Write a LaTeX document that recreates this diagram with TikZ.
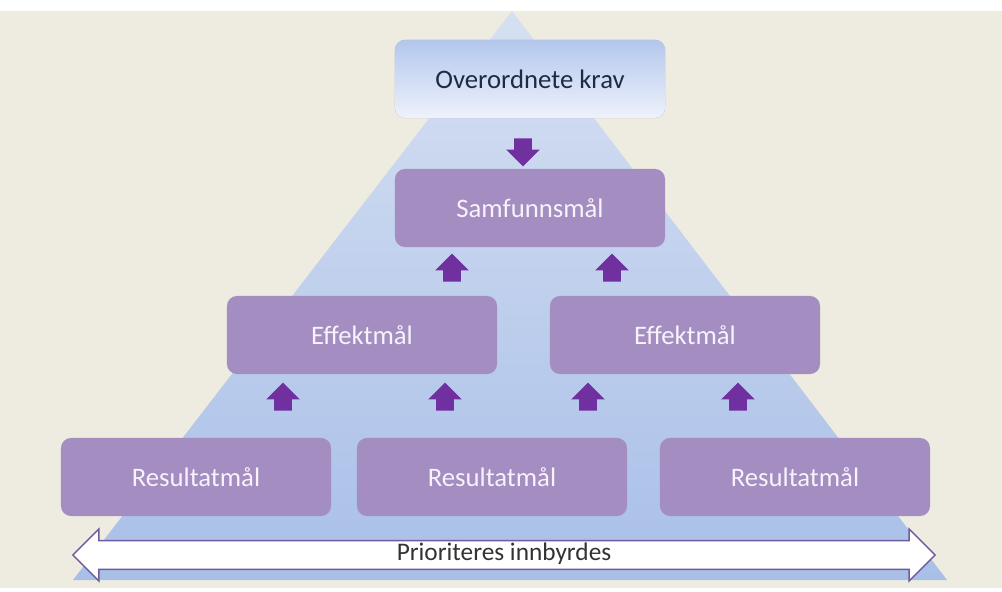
\documentclass[tikz,border=0pt]{standalone}
\usepackage{fontspec}
\setmainfont{Carlito}
\usetikzlibrary{shapes.arrows}
\definecolor{cream}{HTML}{EEEBE1}
\definecolor{pyrtop}{HTML}{D6E0F2}
\definecolor{pyrbottom}{HTML}{A8BFE8}
\definecolor{boxpurple}{HTML}{A48DC0}
\definecolor{boxtext}{HTML}{F7F2FB}
\definecolor{arrowpurple}{HTML}{7030A0}
\definecolor{kravtop}{HTML}{B3C7EC}
\definecolor{kravbottom}{HTML}{EEF2FB}
\definecolor{kravtext}{HTML}{1E2B45}
\definecolor{borderpurple}{HTML}{6E5C9E}
\definecolor{darktext}{HTML}{333333}
\begin{document}
\begin{tikzpicture}[x=0.025cm, y=-0.025cm,
  goal/.style={rectangle, rounded corners=0.25cm, fill=boxpurple, text=boxtext,
    minimum width=6.75cm, minimum height=1.95cm, font=\fontsize{19}{22}\selectfont},
  blockarrow/.style={single arrow, fill=arrowpurple, inner xsep=0pt, inner ysep=0.2125cm,
    single arrow head extend=0.2cm, minimum height=0.7cm}]
\useasboundingbox (0,0) rectangle (1002,592);
\fill[white] (0,0) rectangle (1002,592);
\fill[cream] (0,11) rectangle (1002,588);
% pyramid
\shade[top color=pyrtop, bottom color=pyrbottom] (512,11) -- (947,580) -- (73,580) -- cycle;
% goals
\node[goal, top color=kravtop, bottom color=kravbottom, text=kravtext] (krav) at (530,79) {Overordnete krav};
\node[goal] (samf) at (530,208) {Samfunnsmål};
\node[goal] (eff1) at (362,335) {Effektmål};
\node[goal] (eff2) at (685,335) {Effektmål};
\node[goal] (res1) at (196,477) {Resultatmål};
\node[goal] (res2) at (492,477) {Resultatmål};
\node[goal] (res3) at (795,477) {Resultatmål};
% arrows
\node[blockarrow, rotate=-90] (down) at (523,148) {};
\node[blockarrow, rotate=90] (up1) at (452,272) {};
\node[blockarrow, rotate=90] (up2) at (612,272) {};
\foreach \x/\n in {283/up3, 445/up4, 588/up5, 738/up6}
  \node[blockarrow, rotate=90] (\n) at (\x,401) {};
% bottom
\node[double arrow, draw=borderpurple, line width=1pt, fill=white, text=darktext,
  double arrow head extend=8.2pt, minimum height=21.55cm, text height=12pt,
  text depth=3.5pt, inner ysep=2pt, font=\fontsize{18}{21}\selectfont] (prio) at (504,555) {Prioriteres innbyrdes};
\end{tikzpicture}
\end{document}
